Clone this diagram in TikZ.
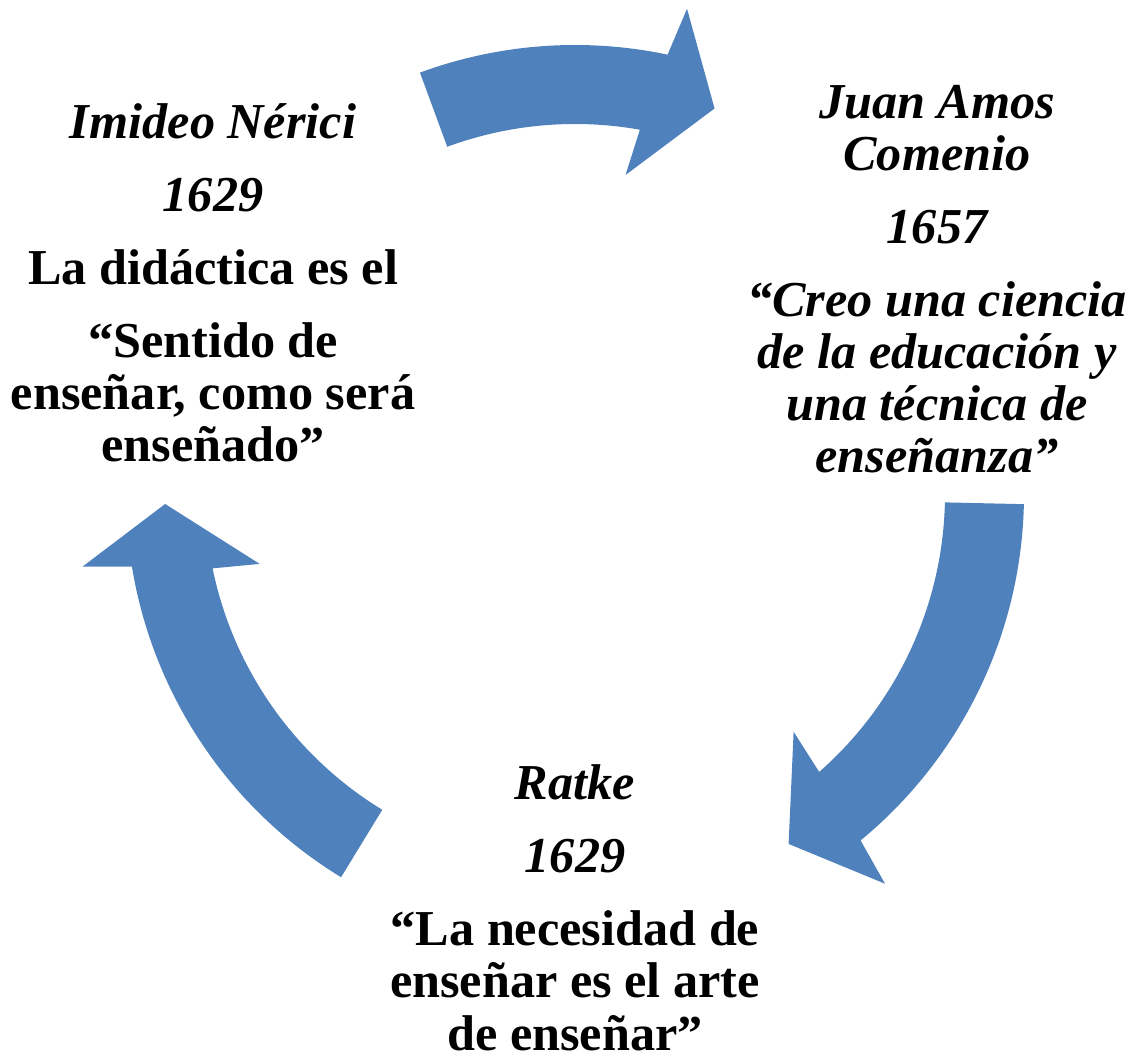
\documentclass[tikz,border=0pt]{standalone}
\usepackage{fontspec}
\setmainfont{Liberation Serif}
\definecolor{arrowblue}{RGB}{79,129,189}
\begin{document}
\begin{tikzpicture}[
    cyclearrow/.style={fill=arrowblue, draw=none},
    textblock/.style={align=center, inner sep=0pt, anchor=base,
        font=\bfseries\fontsize{14.3}{14.8}\selectfont}]
    \useasboundingbox (0,0) rectangle (11.38,10.54);

    % Drawing arrows of the cycle, center at (5.75,5.60)
    \begin{scope}[shift={(5.75,5.60)}]
    % Arrow from Nerici to Comenio
    \fill [cyclearrow] (110.2:4.49) arc [start angle=110.2, end angle=78.1, radius=4.49]
        -- (77.0:4.98) -- (70.1:4.10) -- (81.0:3.23) -- (79.9:3.70)
        arc [start angle=79.9, end angle=110.2, radius=3.70] -- cycle;%
    % Arrow from Comenio to Ratke
    \fill [cyclearrow] (-1.3:4.49) arc [start angle=-1.3, end angle=-50.5, radius=4.49]
        -- (-51.5:4.98) -- (-58.6:4.10) -- (-47.4:3.23) -- (-48.7:3.70)
        arc [start angle=-48.7, end angle=-1.3, radius=3.70] -- cycle;%
    % Arrow from Ratke to Nerici
    \fill [cyclearrow] (238.6:4.49) arc [start angle=238.6, end angle=189.3, radius=4.49]
        -- (188.4:4.98) -- (181.4:4.10) -- (192.5:3.23) -- (191.6:3.70)
        arc [start angle=191.6, end angle=238.6, radius=3.70] -- cycle;%
    \end{scope}

    % Marking block Nerici (base = last line)
    \node [textblock] (nerici) at (2.13,5.92) {\itshape Imideo Nérici\\[6pt]
        \itshape 1629\\[6pt]
        La didáctica es el\\[6pt]
        “Sentido de\\ enseñar, como será\\ enseñado”};%

    % Marking block Comenio
    \node [textblock] (comenio) at (9.37,5.81) {\itshape Juan Amos\\
        \itshape Comenio\\[6pt]
        \itshape 1657\\[6pt]
        \itshape “Creo una ciencia\\ \itshape de la educación y\\
        \itshape una técnica de\\ \itshape enseñanza”};%

    % Marking block Ratke
    \node [textblock] (ratke) at (5.75,0.04) {\itshape Ratke\\[6pt]
        \itshape 1629\\[6pt]
        “La necesidad de\\ enseñar es el arte\\ de enseñar”};%
\end{tikzpicture}
\end{document}
